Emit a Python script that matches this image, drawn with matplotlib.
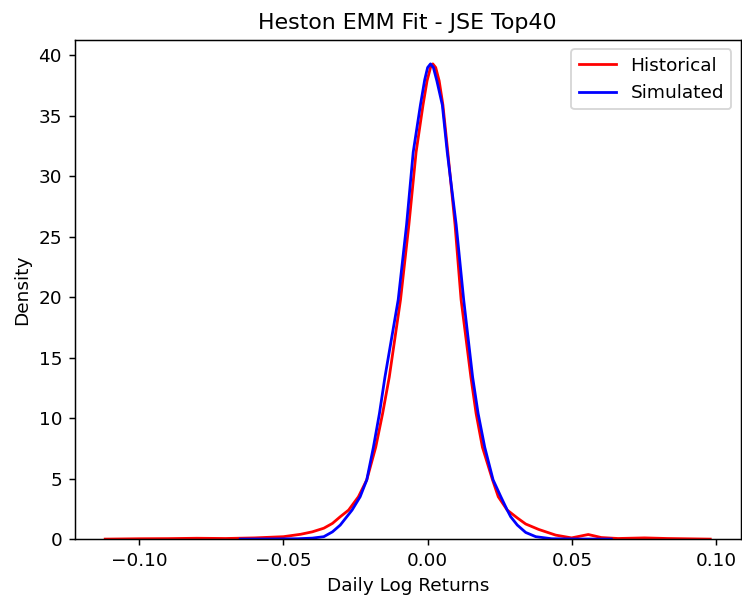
import matplotlib.pyplot as plt

# density curves (x = daily log return, y = density)
hist_x = [-0.1118, -0.100, -0.090, -0.080, -0.070, -0.060, -0.050, -0.044, -0.040,
          -0.036, -0.033, -0.0303, -0.0274, -0.024, -0.0211, -0.018, -0.0156,
          -0.0133, -0.0094, -0.0065, -0.0040, -0.0016, -0.0002, 0.0010, 0.0018,
          0.0028, 0.0040, 0.0053, 0.0070, 0.0095, 0.0116, 0.0150, 0.0168, 0.0190,
          0.0225, 0.0245, 0.0276, 0.0311, 0.0340, 0.0385, 0.0444, 0.0499, 0.0557,
          0.0602, 0.066, 0.0752, 0.083, 0.098]
hist_y = [0.0, 0.03, 0.04, 0.07, 0.05, 0.1, 0.2, 0.4, 0.6,
          0.9, 1.3, 1.85, 2.4, 3.5, 4.9, 7.6, 10.4,
          13.4, 19.8, 26.0, 32.0, 35.9, 37.9, 39.0, 39.3,
          39.0, 37.9, 35.9, 32.0, 26.0, 19.8, 13.4, 10.4, 7.6,
          4.9, 3.5, 2.4, 1.75, 1.25, 0.8, 0.33, 0.1, 0.38,
          0.13, 0.05, 0.1, 0.05, 0.0]

sim_x = [-0.065, -0.055, -0.045, -0.040, -0.036, -0.0330, -0.0303, -0.0262, -0.0234,
         -0.0211, -0.0188, -0.0167, -0.0148, -0.0102, -0.0073, -0.0050, -0.0025,
         -0.0010, 0.0000, 0.0010, 0.0020, 0.0032, 0.0051, 0.0068, 0.0099, 0.0125,
         0.0156, 0.0175, 0.0198, 0.0227, 0.0254, 0.0276, 0.0288, 0.0311, 0.0340,
         0.0375, 0.043, 0.050, 0.0637]
sim_y = [0.0, 0.01, 0.03, 0.08, 0.2, 0.6, 1.16, 2.4, 3.5,
         4.9, 7.6, 10.4, 13.4, 19.8, 26.0, 32.0, 35.9,
         38.0, 39.0, 39.3, 39.0, 37.9, 35.9, 32.0, 26.0, 19.8,
         13.4, 10.4, 7.6, 4.9, 3.5, 2.4, 1.85, 1.16, 0.55,
         0.2, 0.03, 0.01, 0.0]

fig, ax = plt.subplots(figsize=(742 / 133, 599 / 133), dpi=133)
fig.subplots_adjust(left=0.101, right=0.998, bottom=0.1, top=0.933)

ax.plot(hist_x, hist_y, color='red', label='Historical')
ax.plot(sim_x, sim_y, color='blue', label='Simulated')
ax.set_ylim(bottom=0)

ax.set_title('Heston EMM Fit - JSE Top40')
ax.set_xlabel('Daily Log Returns')
ax.set_ylabel('Density')
ax.legend()

plt.savefig('out.png', dpi=133)
